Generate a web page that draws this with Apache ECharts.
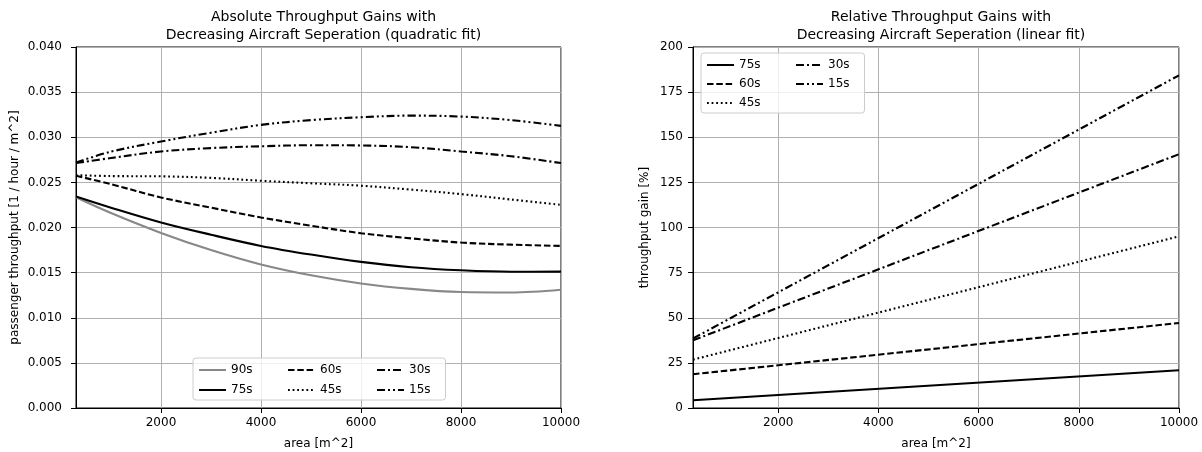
<!DOCTYPE html>
<html>
<head>
<meta charset="utf-8">
<script src="https://cdn.jsdelivr.net/npm/echarts@6/dist/echarts.min.js"></script>
<style>html,body{margin:0;padding:0;background:#fff}#c{width:1202px;height:452px}</style>
</head>
<body>
<div id="c"></div>
<script>
// ---- data ----
const areaAbs = [300, 1000, 2000, 3000, 4000, 5000, 6000, 7000, 8000, 9000, 10000];
const abs90 = [0.02335, 0.0216, 0.0194, 0.0175, 0.0159, 0.0147, 0.0138, 0.0132, 0.01285, 0.0128, 0.0131];
const abs75 = [0.02344, 0.0222, 0.02056, 0.0192, 0.01796, 0.0170, 0.01619, 0.0156, 0.01526, 0.0151, 0.01511];
const abs60 = [0.02573, 0.0248, 0.02333, 0.0222, 0.02111, 0.0202, 0.01937, 0.0188, 0.01833, 0.0181, 0.01796];
const abs45 = [0.0258, 0.0257, 0.02567, 0.0255, 0.02518, 0.0249, 0.02463, 0.0242, 0.0237, 0.0231, 0.02251];
const abs30 = [0.02714, 0.0277, 0.02842, 0.0288, 0.0290, 0.02912, 0.02909, 0.0289, 0.02842, 0.0279, 0.02714];
const abs15 = [0.02721, 0.0284, 0.02953, 0.0305, 0.03137, 0.0319, 0.03222, 0.0324, 0.03229, 0.0319, 0.03126];

const areaRel = [300, 10000];
const rel75 = [4.3, 20.9];
const rel60 = [18.7, 47.1];
const rel45 = [26.8, 95.1];
const rel30 = [37.5, 140.6];
const rel15 = [38.5, 184.3];

const absNames = ['90s', '75s', '60s', '45s', '30s', '15s'];
const relNames = ['75s', '60s', '45s', '30s', '15s'];
const absTitle = 'Absolute Throughput Gains with\nDecreasing Aircraft Seperation (quadratic fit)';
const relTitle = 'Relative Throughput Gains with\nDecreasing Aircraft Seperation (linear fit)';
const xName = 'area [m^2]';
const absYName = 'passenger throughput [1 / hour / m^2]';
const relYName = 'throughput gain [%]';

// ---- styles ----
const FONT = 'DejaVu Sans';
const styles = {
  '90s': {color: '#888888', type: 'solid'},
  '75s': {color: '#000000', type: 'solid'},
  '60s': {color: '#000000', type: [6.5, 2.8]},
  '45s': {color: '#000000', type: [1.8, 2.8]},
  '30s': {color: '#000000', type: [8, 3, 2, 3]},
  '15s': {color: '#000000', type: [8, 3, 2, 3, 2, 3]}
};

function pairs(xs, ys) { return xs.map((x, i) => [x, ys[i]]); }

function mkSeries(name, xs, ys, idx, smooth) {
  const s = styles[name];
  return {
    name: name, type: 'line', xAxisIndex: idx, yAxisIndex: idx,
    data: pairs(xs, ys), showSymbol: false, symbol: 'none',
    smooth: smooth ? 0.35 : false,
    lineStyle: {color: s.color, type: s.type, width: 2.1},
    itemStyle: {color: s.color},
    emphasis: {disabled: true}, animation: false, z: 2
  };
}

const grids = [
  {left: 76, top: 47, width: 485, height: 361},
  {left: 693, top: 47, width: 486, height: 361}
];

function xAxis(idx) {
  return {
    type: 'value', gridIndex: idx, min: 300, max: 10000, splitNumber: 5,
    name: xName, nameLocation: 'middle', nameGap: 30,
    nameTextStyle: {fontFamily: FONT, fontSize: 12, color: '#000'},
    axisLine: {show: true, lineStyle: {color: '#000', width: 1}},
    axisTick: {show: true, length: 5, lineStyle: {color: '#000'}},
    axisLabel: {fontFamily: FONT, fontSize: 12, color: '#000', margin: 9, showMinLabel: false,
                formatter: v => String(v)},
    splitLine: {show: true, lineStyle: {color: '#b0b0b0', width: 1}}
  };
}

function yAxis(idx, min, max, interval, name, nameGap, fmt, margin) {
  return {
    type: 'value', gridIndex: idx, min: min, max: max, interval: interval,
    name: name, nameLocation: 'middle', nameGap: nameGap, nameRotate: 90,
    nameTextStyle: {fontFamily: FONT, fontSize: 12, color: '#000'},
    axisLine: {show: true, onZero: false, lineStyle: {color: '#000', width: 1}},
    axisTick: {show: true, length: 5, lineStyle: {color: '#000'}},
    axisLabel: {fontFamily: FONT, fontSize: 12, color: '#000', margin: margin, formatter: fmt},
    splitLine: {show: true, lineStyle: {color: '#b0b0b0', width: 1}}
  };
}

const legendText = {fontFamily: FONT, fontSize: 12, color: '#000'};
function legend(names, left, top, opts) {
  return Object.assign({
    data: names, orient: 'vertical', left: left, top: top,
    itemWidth: 27, itemHeight: 14, itemGap: 8, padding: 0,
    textStyle: legendText, selectedMode: false, z: 5,
    itemStyle: {opacity: 0, borderWidth: 0}
  }, opts || {});
}

const series = [];
absNames.forEach((n, i) => series.push(mkSeries(n, areaAbs, [abs90, abs75, abs60, abs45, abs30, abs15][i], 0, true)));
relNames.forEach((n, i) => series.push(mkSeries(n, areaRel, [rel75, rel60, rel45, rel30, rel15][i], 1, false)));

const boxStyle = {backgroundColor: 'rgba(255,255,255,0.8)', borderColor: '#cccccc', borderWidth: 1, borderRadius: 3, z: 4};

const option = {
  backgroundColor: '#fff',
  animation: false,
  title: [
    {text: absTitle, left: 318.5, top: 3, textAlign: 'center',
     textStyle: {fontFamily: FONT, fontSize: 14, fontWeight: 'normal', color: '#000', lineHeight: 18}},
    {text: relTitle, left: 936, top: 3, textAlign: 'center',
     textStyle: {fontFamily: FONT, fontSize: 14, fontWeight: 'normal', color: '#000', lineHeight: 18}}
  ],
  grid: grids.map(g => Object.assign({show: true, borderColor: '#000', borderWidth: 1,
    backgroundColor: 'transparent', containLabel: false, outerBoundsMode: 'none'}, g)),
  xAxis: [xAxis(0), xAxis(1)],
  yAxis: [
    yAxis(0, 0, 0.04, 0.005, absYName, 55, v => v.toFixed(3), 14),
    yAxis(1, 0, 200, 25, relYName, 42, v => String(v), 10)
  ],
  legend: [
    legend(['90s', '75s'], 193, 358, Object.assign({padding: [6, 193, 4, 5]}, boxStyle)),
    legend(['60s', '45s'], 287, 364),
    legend(['30s', '15s'], 376, 364),
    legend(['75s', '60s', '45s'], 701, 53, Object.assign({padding: [6, 104, 4, 5], itemGap: 7}, boxStyle)),
    legend(['30s', '15s'], 795, 59, {itemGap: 7})
  ],
  series: series
};

const chart = echarts.init(document.getElementById('c'), null, {renderer: 'canvas'});
chart.setOption(option);
</script>
</body>
</html>
